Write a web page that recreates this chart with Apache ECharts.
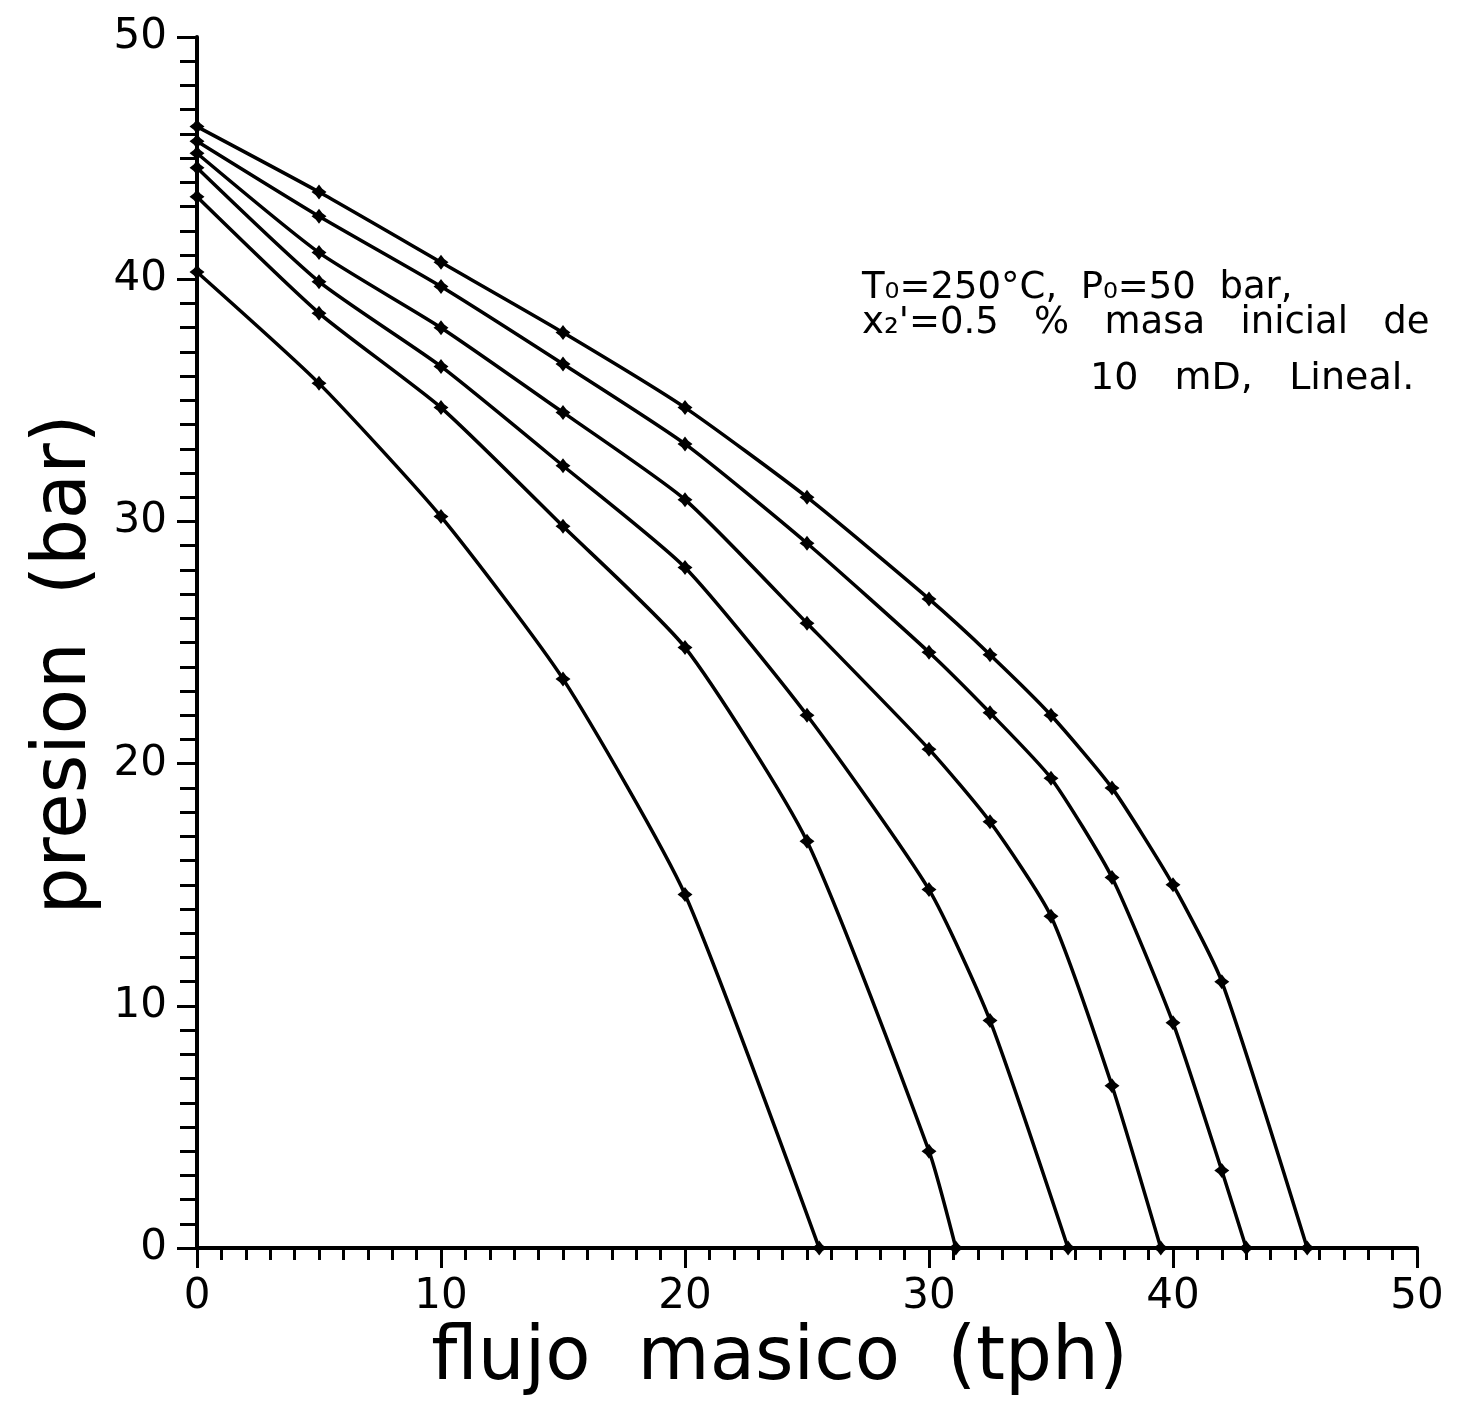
<!DOCTYPE html>
<html>
<head>
<meta charset="utf-8">
<script src="https://cdn.jsdelivr.net/npm/echarts@6/dist/echarts.min.js"></script>
<style>
  html, body { margin: 0; padding: 0; background: #fff; }
  #chart { width: 1457px; height: 1402px; }
</style>
</head>
<body>
<div id="chart"></div>
<script>
// flujo masico (tph) y presion (bar) de cada curva
var flujo1 = [0, 5, 10, 15, 20, 25.5];
var presion1 = [40.3, 35.7, 30.2, 23.5, 14.6, 0];

var flujo2 = [0, 5, 10, 15, 20, 25, 30, 31.1];
var presion2 = [43.4, 38.6, 34.7, 29.8, 24.8, 16.8, 4.0, 0];

var flujo3 = [0, 5, 10, 15, 20, 25, 30, 32.5, 35.7];
var presion3 = [44.6, 39.9, 36.4, 32.3, 28.1, 22.0, 14.8, 9.4, 0];

var flujo4 = [0, 5, 10, 15, 20, 25, 30, 32.5, 35, 37.5, 39.5];
var presion4 = [45.2, 41.1, 38.0, 34.5, 30.9, 25.8, 20.6, 17.6, 13.7, 6.7, 0];

var flujo5 = [0, 5, 10, 15, 20, 25, 30, 32.5, 35, 37.5, 40, 42, 43];
var presion5 = [45.7, 42.6, 39.7, 36.5, 33.2, 29.1, 24.6, 22.1, 19.4, 15.3, 9.3, 3.2, 0];

var flujo6 = [0, 5, 10, 15, 20, 25, 30, 32.5, 35, 37.5, 40, 42, 45.5];
var presion6 = [46.3, 43.6, 40.7, 37.8, 34.7, 31.0, 26.8, 24.5, 22.0, 19.0, 15.0, 11.0, 0];

var curvas = [
    [flujo1, presion1],
    [flujo2, presion2],
    [flujo3, presion3],
    [flujo4, presion4],
    [flujo5, presion5],
    [flujo6, presion6]
];

var fuente = '"DejaVu Sans", sans-serif';
// marcador tipo estrella
var estrella = 'path://M0,-6L2.6,-2.6L6,0L2.6,2.6L0,6L-2.6,2.6L-6,0L-2.6,-2.6Z';

function pares(xs, ys) {
    var out = [];
    for (var i = 0; i < xs.length; i++) {
        out.push([xs[i], ys[i]]);
    }
    return out;
}

var series = [];
for (var i = 0; i < curvas.length; i++) {
    series.push({
        type: 'line',
        data: pares(curvas[i][0], curvas[i][1]),
        smooth: 0.2,
        symbol: estrella,
        symbolSize: 15,
        showAllSymbol: true,
        itemStyle: { color: '#000' },
        lineStyle: { color: '#000', width: 3.5 },
        z: 3
    });
}

var myChart = echarts.init(document.getElementById('chart'));
myChart.setOption({
    animation: false,
    backgroundColor: '#fff',
    grid: { left: 197, right: 40, top: 37, bottom: 152 },
    xAxis: {
        type: 'value',
        min: 0,
        max: 50,
        interval: 10,
        name: 'flujo  masico  (tph)',
        nameLocation: 'middle',
        nameGap: 62,
        nameTextStyle: { fontFamily: fuente, fontSize: 74, color: '#000', padding: [0, 55, 0, 0] },
        axisLine: { onZero: false, lineStyle: { color: '#000', width: 4 } },
        axisTick: { inside: false, length: 20, lineStyle: { color: '#000', width: 3 } },
        minorTick: { show: true, splitNumber: 10, length: 12, lineStyle: { color: '#000', width: 3 } },
        axisLabel: { fontFamily: fuente, fontSize: 42, color: '#000', margin: 28 },
        splitLine: { show: false },
        minorSplitLine: { show: false }
    },
    yAxis: {
        type: 'value',
        min: 0,
        max: 50,
        interval: 10,
        name: 'presion  (bar)',
        nameLocation: 'middle',
        nameGap: 66,
        nameTextStyle: { fontFamily: fuente, fontSize: 74, color: '#000', padding: [0, 44, 0, 0] },
        axisLine: { onZero: false, lineStyle: { color: '#000', width: 4 } },
        axisTick: { inside: false, length: 20, lineStyle: { color: '#000', width: 3 } },
        minorTick: { show: true, splitNumber: 10, length: 17, lineStyle: { color: '#000', width: 3 } },
        axisLabel: { fontFamily: fuente, fontSize: 42, color: '#000', margin: 30 },
        splitLine: { show: false },
        minorSplitLine: { show: false }
    },
    graphic: [
        {
            type: 'text',
            left: 862,
            top: 270,
            style: { text: 'T\u2080=250\u00b0C,  P\u2080=50  bar,', font: '37px ' + fuente, fill: '#000' }
        },
        {
            type: 'text',
            left: 862,
            top: 305,
            style: { text: 'x\u2082\'=0.5   %   masa   inicial   de', font: '37px ' + fuente, fill: '#000' }
        },
        {
            type: 'text',
            left: 1090,
            top: 360,
            style: { text: '10   mD,   Lineal.', font: '38px ' + fuente, fill: '#000' }
        }
    ],
    series: series
});
</script>
</body>
</html>
